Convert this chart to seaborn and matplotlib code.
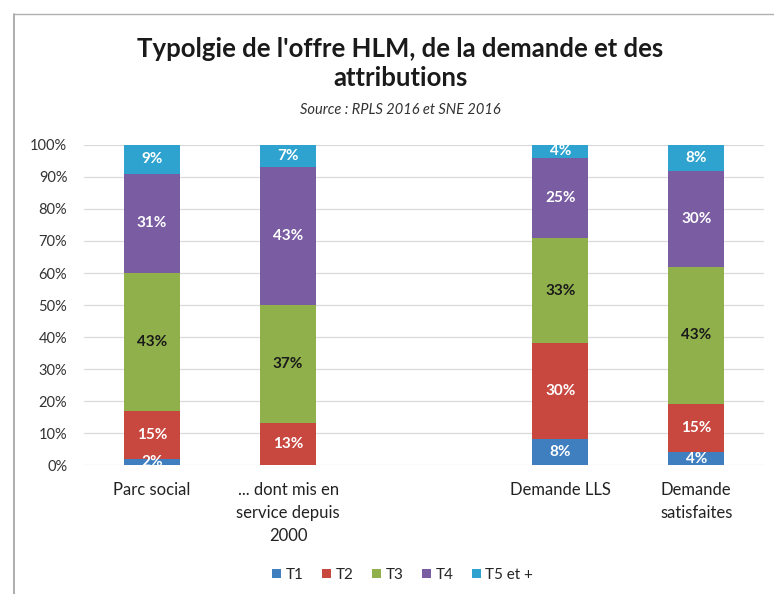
import numpy as np
import pandas as pd
import matplotlib.pyplot as plt
from matplotlib.lines import Line2D
from matplotlib.patches import Patch
import seaborn as sns

# Data (shares in %)
categories = ["Parc social", "... dont mis en service depuis 2000", "", "Demande LLS", "Demande satisfaites"]
tick_labels = ["Parc social", "... dont mis en\nservice depuis\n2000", "", "Demande LLS", "Demande\nsatisfaites"]
bar_cats = ["Parc social", "... dont mis en service depuis 2000", "Demande LLS", "Demande satisfaites"]
t1 = [2, 0, 8, 4]
t2 = [15, 13, 30, 15]
t3 = [43, 37, 33, 43]
t4 = [31, 43, 25, 30]
t5 = [9, 7, 4, 8]
series_names = ["T1", "T2", "T3", "T4", "T5 et +"]
colors = ["#3f7fc0", "#c8473f", "#8fb04a", "#7a5ca3", "#2fa3cf"]
label_colors = ["white", "white", "#1a1a1a", "white", "white"]

layers = np.array([t1, t2, t3, t4, t5], dtype=float)
cum = layers.cumsum(axis=0)

sns.set_style("white")
plt.rcParams["font.family"] = ["Lato", "DejaVu Sans"]

fig = plt.figure(figsize=(7.74, 5.94), dpi=100)
ax = fig.add_axes([0.1085, 0.217, 0.879, 0.539])

# Stack by drawing cumulative totals from top layer down
for i in range(len(series_names) - 1, -1, -1):
    df = pd.DataFrame({"cat": bar_cats, "val": cum[i]})
    sns.barplot(data=df, x="cat", y="val", order=categories, color=colors[i],
                width=0.41, saturation=1, edgecolor="none", ax=ax, zorder=2)

# Segment labels
for i in range(len(series_names)):
    for j, cat in enumerate(bar_cats):
        v = layers[i, j]
        if v <= 0:
            continue
        xpos = categories.index(cat)
        ypos = cum[i, j] - v / 2
        ax.text(xpos, ypos, f"{int(v)}%", ha="center", va="center", fontsize=11,
                fontweight="bold", color=label_colors[i], zorder=3)

ax.set_ylim(0, 100)
ax.set_xlim(-0.5, 4.5)
ax.set_yticks(np.arange(0, 101, 10))
ax.set_yticklabels([f"{v}%" for v in range(0, 101, 10)], fontsize=10.5, color="#333333")
ax.set_xticks(range(len(categories)))
ax.set_xticklabels(tick_labels, fontsize=12, color="#222222", va="top", linespacing=1.55)
ax.tick_params(axis="x", length=0, pad=12)
ax.tick_params(axis="y", length=0, pad=12)
ax.set_xlabel("")
ax.set_ylabel("")
ax.yaxis.grid(True, color="#d9d9d9", linewidth=0.9)
ax.set_axisbelow(True)
for s in ax.spines.values():
    s.set_visible(False)

# Titles
fig.text(0.517, 0.918, "Typolgie de l'offre HLM, de la demande et des", ha="center", va="center",
         fontsize=18.5, fontweight="bold", color="#1a1a1a")
fig.text(0.517, 0.868, "attributions", ha="center", va="center",
         fontsize=18.5, fontweight="bold", color="#1a1a1a")
fig.text(0.517, 0.815, "Source : RPLS 2016 et SNE 2016", ha="center", va="center",
         fontsize=10.5, style="italic", color="#333333")

# Legend
handles = [Patch(facecolor=c, edgecolor="none") for c in colors]
fig.legend(handles, series_names, loc="center", bbox_to_anchor=(0.52, 0.032), ncol=5,
           frameon=False, fontsize=11, handlelength=0.6, handleheight=0.6,
           handletextpad=0.3, columnspacing=1.2)

# Chart frame (left and top edges)
fig.add_artist(Line2D([0.018, 0.018], [0.0, 0.977], color="#a0a0a0", linewidth=1.2))
fig.add_artist(Line2D([0.018, 1.0], [0.977, 0.977], color="#b0b0b0", linewidth=1.0))

fig.savefig("out.png", dpi=100, facecolor="white")
